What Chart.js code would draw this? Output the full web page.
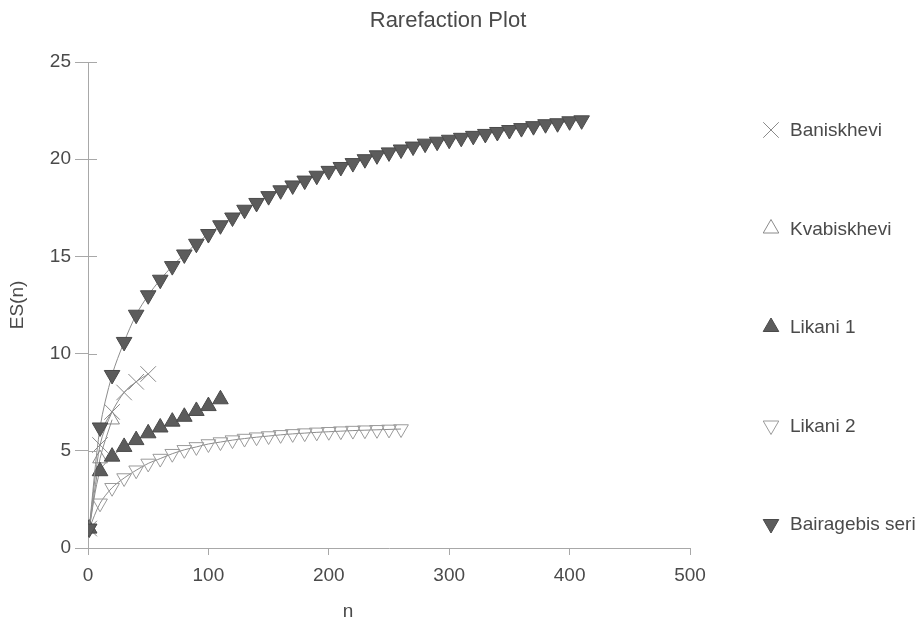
<!DOCTYPE html>
<html>
<head>
<meta charset="utf-8">
<script src="https://cdn.jsdelivr.net/npm/chart.js@4.4.1/dist/chart.umd.min.js"></script>
<style>
  html, body { margin: 0; padding: 0; background: #fff; }
  #wrap { width: 922px; height: 624px; }
</style>
</head>
<body>
<div id="wrap"><canvas id="rarefaction"></canvas></div>
<script>
// sample sizes (n) and expected species ES(n) per site
const nBaniskhevi = [1, 10, 20, 30, 40, 50];
const esBaniskhevi = [1, 5.3, 7.0, 8.0, 8.55, 8.95];

const nKvabiskhevi = [1, 10, 20];
const esKvabiskhevi = [1, 4.6, 6.6];

const nLikani1 = [1, 10, 20, 30, 40, 50, 60, 70, 80, 90, 100, 110];
const esLikani1 = [1, 3.95, 4.7, 5.2, 5.55, 5.9, 6.2, 6.5, 6.75, 7.05, 7.3, 7.65];

const nLikani2 = [1, 10, 20, 30, 40, 50, 60, 70, 80, 90, 100, 110, 120, 130,
  140, 150, 160, 170, 180, 190, 200, 210, 220, 230, 240, 250, 260];
const esLikani2 = [1, 2.3, 3.1, 3.6, 4.0, 4.35, 4.6, 4.85, 5.05, 5.2, 5.35, 5.45, 5.55, 5.63,
  5.7, 5.76, 5.82, 5.87, 5.91, 5.95, 5.98, 6.01, 6.04, 6.06, 6.08, 6.1, 6.12];

const nBairagebis = [1, 10, 20, 30, 40, 50, 60, 70, 80, 90, 100, 110, 120, 130,
  140, 150, 160, 170, 180, 190, 200, 210, 220, 230, 240, 250, 260, 270,
  280, 290, 300, 310, 320, 330, 340, 350, 360, 370, 380, 390, 400, 410];
const esBairagebis = [1, 6.2, 8.9, 10.6, 12.0, 13.0, 13.8, 14.5, 15.1, 15.65, 16.15, 16.6, 17.0, 17.4,
  17.75, 18.1, 18.4, 18.65, 18.9, 19.15, 19.4, 19.6, 19.8, 20.0, 20.2, 20.35, 20.5, 20.65,
  20.8, 20.9, 21.0, 21.1, 21.2, 21.3, 21.4, 21.5, 21.6, 21.7, 21.8, 21.85, 21.95, 22.0];

const xTicks = [0, 100, 200, 300, 400, 500];
const yTicks = [0, 5, 10, 15, 20, 25];

const FONT = '"Liberation Sans", Arial, sans-serif';
const axisColor = '#a8a8a8';
const textColor = '#4a4a4a';
const lineColor = '#8c8c8c';
const darkFill = '#5c5c5c';

const pts = (xs, ys) => xs.map((x, i) => ({ x: x, y: ys[i] }));

function series(label, xs, ys, style) {
  return Object.assign({
    label: label,
    data: pts(xs, ys),
    showLine: true,
    tension: 0.3,
    borderColor: lineColor,
    borderWidth: 1,
    pointBorderWidth: 1,
    pointHoverRadius: 9
  }, style);
}

const datasets = [
  series('Bairagebis seri', nBairagebis, esBairagebis, {
    pointStyle: 'triangle', pointRotation: 180, pointRadius: 9,
    pointBackgroundColor: darkFill, pointBorderColor: '#4a4a4a'
  }),
  series('Likani 1', nLikani1, esLikani1, {
    pointStyle: 'triangle', pointRotation: 0, pointRadius: 9,
    pointBackgroundColor: darkFill, pointBorderColor: '#4a4a4a'
  }),
  series('Kvabiskhevi', nKvabiskhevi, esKvabiskhevi, {
    pointStyle: 'triangle', pointRotation: 0, pointRadius: 8.5,
    pointBackgroundColor: 'rgba(255,255,255,0)', pointBorderColor: '#8a8a8a'
  }),
  series('Likani 2', nLikani2, esLikani2, {
    pointStyle: 'triangle', pointRotation: 180, pointRadius: 8.5,
    pointBackgroundColor: 'rgba(255,255,255,0)', pointBorderColor: '#9a9a9a'
  }),
  series('Baniskhevi', nBaniskhevi, esBaniskhevi, {
    pointStyle: 'crossRot', pointRadius: 11,
    pointBackgroundColor: 'rgba(0,0,0,0)', pointBorderColor: '#8a8a8a'
  })
];

// legend order as in the picture (top to bottom)
const legendOrder = ['Baniskhevi', 'Kvabiskhevi', 'Likani 1', 'Likani 2', 'Bairagebis seri'];

// title, x axis name, inner tick stubs and the legend column on the right
const extras = {
  id: 'extras',
  afterDraw(chart) {
    const ctx = chart.ctx;
    const area = chart.chartArea;
    const ys = chart.scales.y;
    ctx.save();

    ctx.strokeStyle = axisColor;
    ctx.lineWidth = 1;
    ys.ticks.forEach(t => {
      const y = Math.round(ys.getPixelForValue(t.value)) + 0.5;
      ctx.beginPath();
      ctx.moveTo(area.left, y);
      ctx.lineTo(area.left + 9, y);
      ctx.stroke();
    });

    ctx.fillStyle = textColor;
    ctx.textAlign = 'center';
    ctx.textBaseline = 'middle';
    ctx.font = '22px ' + FONT;
    ctx.fillText('Rarefaction Plot', 448, 21);
    ctx.font = '19px ' + FONT;
    ctx.fillText('n', 348, 612);

    ctx.textAlign = 'left';
    legendOrder.forEach((name, i) => {
      const ds = chart.data.datasets.find(d => d.label === name);
      const y = 130 + i * 98.5;
      ctx.fillStyle = ds.pointBackgroundColor;
      ctx.strokeStyle = ds.pointBorderColor;
      ctx.lineWidth = 1;
      Chart.helpers.drawPoint(ctx, {
        pointStyle: ds.pointStyle,
        rotation: ds.pointRotation || 0,
        radius: ds.pointStyle === 'crossRot' ? 11 : 9,
        borderWidth: 1
      }, 771, y);
      ctx.fillStyle = textColor;
      ctx.font = '19px ' + FONT;
      ctx.fillText(name, 790, y + 1);
    });
    ctx.restore();
  }
};

new Chart(document.getElementById('rarefaction'), {
  type: 'scatter',
  data: { datasets: datasets },
  options: {
    responsive: true,
    maintainAspectRatio: false,
    animation: false,
    layout: { padding: { top: 62, right: 232, bottom: 0, left: 0 } },
    plugins: {
      legend: { display: false },
      title: { display: false },
      tooltip: { enabled: true }
    },
    scales: {
      x: {
        type: 'linear',
        min: 0,
        max: 500,
        afterBuildTicks: s => { s.ticks = xTicks.map(v => ({ value: v })); },
        afterFit: s => { s.height = 76; },
        border: { color: axisColor, width: 1 },
        grid: { display: true, drawOnChartArea: false, drawTicks: true, tickLength: 7, color: axisColor },
        ticks: { color: textColor, padding: 9, font: { family: FONT, size: 19 } }
      },
      y: {
        min: 0,
        max: 25,
        afterBuildTicks: s => { s.ticks = yTicks.map(v => ({ value: v })); },
        afterFit: s => { s.width = 88; },
        border: { color: axisColor, width: 1 },
        grid: { display: true, drawOnChartArea: false, drawTicks: true, tickLength: 13, color: axisColor },
        title: {
          display: true,
          text: 'ES(n)',
          color: textColor,
          padding: { top: 6, bottom: 0 },
          font: { family: FONT, size: 19 }
        },
        ticks: { color: textColor, padding: 4, font: { family: FONT, size: 19 } }
      }
    }
  },
  plugins: [extras]
});
</script>
</body>
</html>
